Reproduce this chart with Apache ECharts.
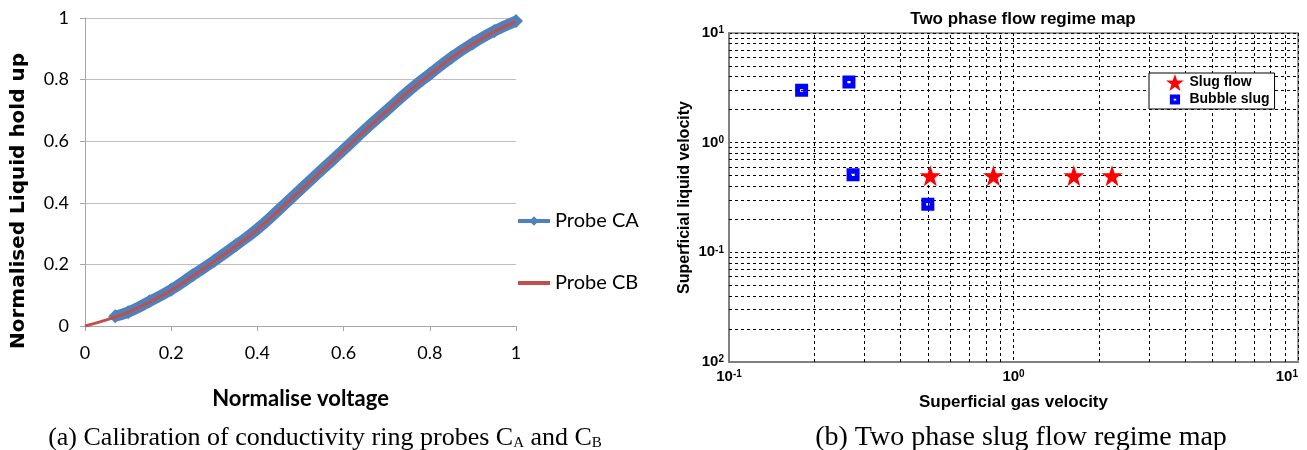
<!DOCTYPE html>
<html>
<head>
<meta charset="utf-8">
<style>
  html, body { margin: 0; padding: 0; background: #fff; }
  #chart { width: 1307px; height: 450px; }
</style>
<script src="https://cdn.jsdelivr.net/npm/echarts@6/dist/echarts.min.js"></script>
</head>
<body>
<div id="chart"></div>
<script>
// (a) calibration of the two ring probes
var caVoltage = [0.07, 0.1, 0.15, 0.2, 0.25, 0.3, 0.35, 0.4, 0.45, 0.5, 0.55, 0.6, 0.65, 0.7, 0.75, 0.8, 0.85, 0.9, 0.95, 1.0]
var caHoldup = [0.032, 0.045, 0.08, 0.118, 0.165, 0.212, 0.262, 0.315, 0.378, 0.443, 0.508, 0.572, 0.638, 0.7, 0.762, 0.818, 0.872, 0.918, 0.958, 0.99]
var cbVoltage = [0, 0.05, 0.1, 0.15, 0.2, 0.25, 0.3, 0.35, 0.4, 0.45, 0.5, 0.55, 0.6, 0.65, 0.7, 0.75, 0.8, 0.85, 0.9, 0.95, 1.0]
var cbHoldup = [0, 0.02, 0.044, 0.078, 0.116, 0.162, 0.21, 0.26, 0.313, 0.376, 0.44, 0.505, 0.57, 0.635, 0.698, 0.76, 0.816, 0.87, 0.916, 0.956, 0.988]

// (b) flow regime map points
var slugGas = [0.51, 0.85, 1.63, 2.22]
var slugLiquid = [0.5, 0.5, 0.5, 0.5]
var bubbleGas = [0.18, 0.264, 0.273, 0.5]
var bubbleLiquid = [3.0, 3.57, 0.51, 0.275]

// tick label exponents, as printed
var xTickSup = ['-1', '0', '1'] // 10^-1 .. 10^1
var yTickSup = ['2', '-1', '0', '1'] // 10^-2 .. 10^1

// minor log grid lines (2..9 in each decade)
var minorX = []
var minorY = []
;[0.1, 1].forEach(function(d) {
  for (var k = 2; k <= 9; k++) minorX.push(+(d * k).toPrecision(3))
})
;[0.01, 0.1, 1].forEach(function(d) {
  for (var k = 2; k <= 9; k++) minorY.push(+(d * k).toPrecision(3))
})

function pairs(xs, ys) {
  return xs.map(function(x, i) { return [x, ys[i]] })
}

var starPath = 'path://M50,0L61.8,34.5L97.6,34.5L68.5,55.9L79.4,90.5L50,69.1L20.6,90.5L31.5,55.9L2.4,34.5L38.2,34.5Z'
var squarePath = 'path://M0,0H12V12H0Z M4.5,5V7.2H7.5V5Z'
// same square, padded so the legend icon stays smaller than the star
var squareIcon = 'path://M-4,-4M16,16M0,0H12V12H0Z M4.5,5V7.2H7.5V5Z'

var narrow = "Lato, 'Open Sans', sans-serif"
var arial = "'Liberation Sans', Arial, sans-serif"
var serif = "'Liberation Serif', 'Times New Roman', serif"

var chart = echarts.init(document.getElementById('chart'))

var option = {
  animation: false,
  backgroundColor: '#fff',
  title: [
    {
      text: 'Two phase flow regime map',
      left: 1018,
      textAlign: 'center',
      top: 6,
      textStyle: { fontFamily: arial, fontSize: 17, fontWeight: 'bold', color: '#000' }
    },
    {
      text: '(a) Calibration of conductivity ring probes C{s|A} and C{s|B}',
      left: 320,
      textAlign: 'center',
      top: 420,
      textStyle: {
        fontFamily: serif, fontSize: 26, fontWeight: 'normal', color: '#000',
        rich: { s: { fontFamily: serif, fontSize: 15, verticalAlign: 'bottom', color: '#000' } }
      }
    },
    {
      text: '(b) Two phase slug flow regime map',
      left: 1016,
      textAlign: 'center',
      top: 419,
      textStyle: { fontFamily: serif, fontSize: 28, fontWeight: 'normal', color: '#000' }
    }
  ],
  legend: [
    {
      data: [
        'Probe CA',
        { name: 'Probe CB', icon: 'path://M0,0H32V4H0Z' }
      ],
      orient: 'vertical',
      left: 511,
      top: 206,
      itemGap: 42,
      itemWidth: 32,
      itemHeight: 12,
      lineStyle: { width: 4 },
      textStyle: { fontFamily: narrow, fontSize: 20, color: '#000' }
    },
    {
      data: [
        { name: 'Slug flow', icon: starPath },
        { name: 'Bubble slug', icon: squareIcon }
      ],
      orient: 'vertical',
      left: 1149,
      top: 73,
      padding: [1, 5, 1, 17],
      itemGap: 0,
      itemWidth: 19,
      itemHeight: 17,
      borderColor: '#000',
      borderWidth: 1,
      backgroundColor: '#fff',
      textStyle: { fontFamily: arial, fontSize: 14, fontWeight: 'bold', color: '#000' }
    }
  ],
  grid: [
    { left: 85, top: 18, width: 431, height: 308 },
    { left: 729, top: 33, width: 569, height: 329, show: true, borderColor: '#7f7f7f', borderWidth: 1.5 }
  ],
  xAxis: [
    {
      gridIndex: 0,
      type: 'value',
      min: 0,
      max: 1,
      interval: 0.2,
      name: 'Normalise voltage',
      nameLocation: 'middle',
      nameGap: 62,
      nameTextStyle: { fontFamily: narrow, fontSize: 22, fontWeight: 'bold', color: '#000' },
      axisLine: { lineStyle: { color: '#a6a6a6', width: 1 } },
      axisTick: { show: true, length: 5, lineStyle: { color: '#a6a6a6' } },
      splitLine: { show: false },
      axisLabel: { margin: 18, fontFamily: narrow, fontSize: 18, color: '#000' }
    },
    {
      gridIndex: 1,
      type: 'log',
      logBase: 10,
      min: 0.1,
      max: 10,
      name: 'Superficial gas velocity',
      nameLocation: 'middle',
      nameGap: 32,
      nameTextStyle: { fontFamily: arial, fontSize: 17, fontWeight: 'bold', color: '#000' },
      axisLine: { lineStyle: { color: '#7f7f7f', width: 2 } },
      axisTick: { show: false },
      splitLine: { show: true, lineStyle: { color: '#000', type: [3, 3], width: 1 } },
      axisLabel: {
        margin: 7,
        alignMinLabel: 'center',
        alignMaxLabel: 'right',
        fontFamily: arial,
        fontSize: 15,
        fontWeight: 'bold',
        color: '#000',
        formatter: function(v) {
          return '10{sup|' + xTickSup[Math.round(Math.log10(v)) + 1] + '}'
        },
        rich: { sup: { fontFamily: arial, fontSize: 10, fontWeight: 'bold', verticalAlign: 'top', color: '#000' } }
      }
    }
  ],
  yAxis: [
    {
      gridIndex: 0,
      type: 'value',
      min: 0,
      max: 1,
      interval: 0.2,
      name: 'Normalised Liquid hold up',
      nameLocation: 'middle',
      nameGap: 56,
      nameTextStyle: { fontFamily: "'DejaVu Sans', sans-serif", fontSize: 20, fontWeight: 'bold', color: '#000', padding: [0, 58, 0, 0] },
      axisLine: { show: true, lineStyle: { color: '#a6a6a6', width: 1 } },
      axisTick: { show: true, length: 5, lineStyle: { color: '#a6a6a6' } },
      splitLine: { show: true, lineStyle: { color: '#bfbfbf', width: 1 } },
      axisLabel: { margin: 16, fontFamily: narrow, fontSize: 18, color: '#000' }
    },
    {
      gridIndex: 1,
      type: 'log',
      logBase: 10,
      min: 0.01,
      max: 10,
      name: 'Superficial liquid velocity',
      nameLocation: 'middle',
      nameGap: 36,
      nameTextStyle: { fontFamily: arial, fontSize: 16, fontWeight: 'bold', color: '#000' },
      axisLine: { show: true, lineStyle: { color: '#7f7f7f', width: 2 } },
      axisTick: { show: false },
      splitLine: { show: true, lineStyle: { color: '#000', type: [3, 3], width: 1 } },
      axisLabel: {
        margin: 5,
        fontFamily: arial,
        fontSize: 15,
        fontWeight: 'bold',
        color: '#000',
        formatter: function(v) {
          return '10{sup|' + yTickSup[Math.round(Math.log10(v)) + 2] + '}'
        },
        rich: { sup: { fontFamily: arial, fontSize: 10, fontWeight: 'bold', verticalAlign: 'top', color: '#000' } }
      }
    }
  ],
  series: [
    {
      name: 'Probe CA',
      type: 'line',
      xAxisIndex: 0,
      yAxisIndex: 0,
      data: pairs(caVoltage, caHoldup),
      smooth: true,
      symbol: 'diamond',
      symbolSize: 14,
      showAllSymbol: true,
      itemStyle: { color: '#4f81bd' },
      lineStyle: { color: '#4f81bd', width: 11 },
      z: 2
    },
    {
      name: 'Probe CB',
      type: 'line',
      xAxisIndex: 0,
      yAxisIndex: 0,
      data: pairs(cbVoltage, cbHoldup),
      smooth: true,
      symbol: 'none',
      itemStyle: { color: '#c0504d' },
      lineStyle: { color: '#c0504d', width: 3 },
      z: 3
    },
    {
      name: 'Slug flow',
      type: 'scatter',
      xAxisIndex: 1,
      yAxisIndex: 1,
      data: pairs(slugGas, slugLiquid),
      symbol: starPath,
      symbolSize: 21,
      itemStyle: { color: '#ff0000', opacity: 1 },
      z: 3
    },
    {
      name: 'Bubble slug',
      type: 'scatter',
      xAxisIndex: 1,
      yAxisIndex: 1,
      data: pairs(bubbleGas, bubbleLiquid),
      symbol: squarePath,
      symbolSize: 13,
      itemStyle: { color: '#0000ff', opacity: 1 },
      z: 3,
      markLine: {
        silent: true,
        z: 1,
        symbol: ['none', 'none'],
        label: { show: false },
        lineStyle: { color: '#000', type: [3, 3], width: 1 },
        data: minorX.map(function(v) { return { xAxis: v } })
          .concat(minorY.map(function(v) { return { yAxis: v } }))
      }
    }
  ]
}

chart.setOption(option)
</script>
</body>
</html>
